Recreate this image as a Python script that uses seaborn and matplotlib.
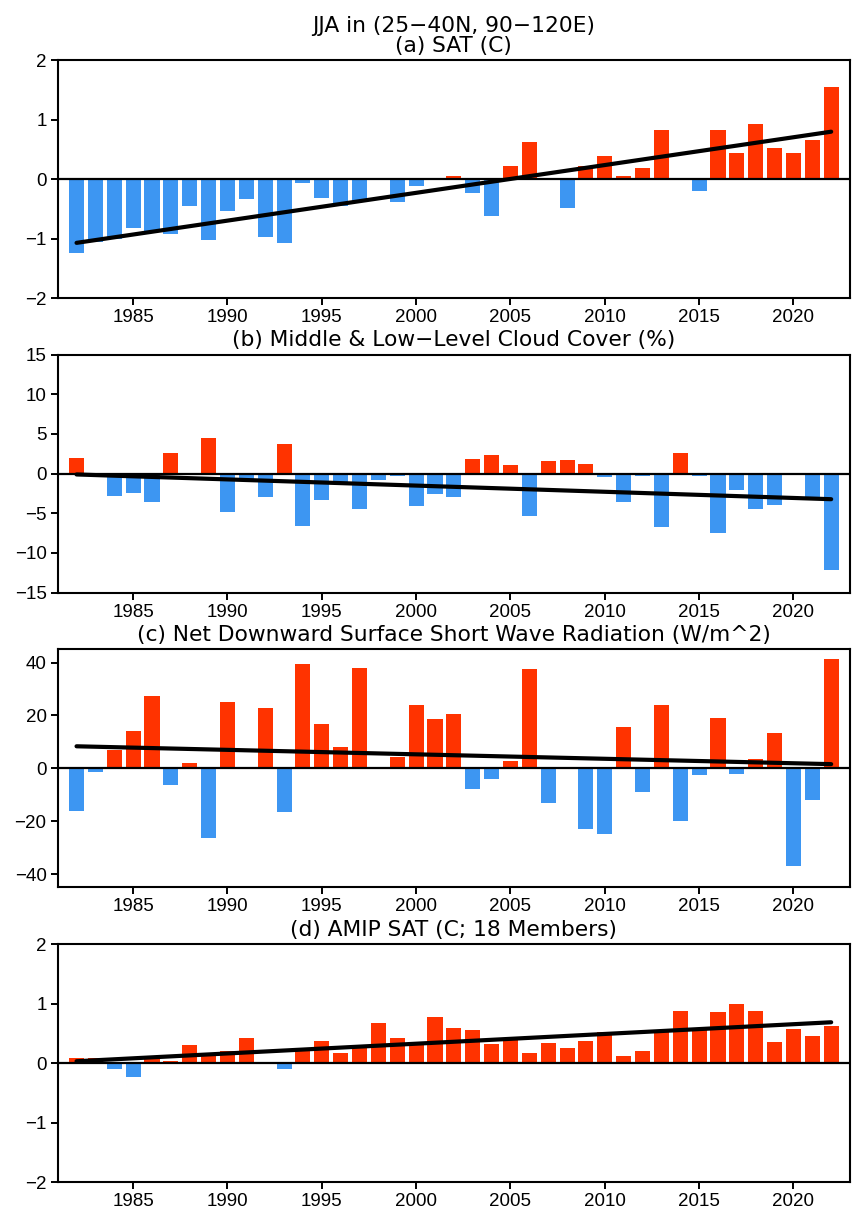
import numpy as np
import pandas as pd
import seaborn as sns
from matplotlib import pyplot as plt

# JJA anomalies over (25-40N, 90-120E), 1982-2022
years = list(range(1982, 2023))

sat = [-1.24, -1.06, -1.01, -0.82, -0.88, -0.92, -0.46, -1.02, -0.53, -0.34,
       -0.98, -1.07, -0.07, -0.32, -0.46, -0.38, 0.0, -0.39, -0.11, 0.0,
       0.05, -0.24, -0.62, 0.22, 0.63, 0.0, -0.48, 0.22, 0.39, 0.05,
       0.18, 0.83, 0.02, -0.20, 0.82, 0.43, 0.92, 0.52, 0.43, 0.65, 1.55]

cloud = [1.93, 0.0, -2.77, -2.44, -3.57, 2.56, 0.0, 4.45, -4.79, -0.7,
         -2.98, 3.74, -6.64, -3.32, -1.3, -4.45, -0.8, -0.25, -4.03, -2.52,
         -2.9, 1.89, 2.31, 1.05, -5.34, 1.55, 1.76, 1.26, -0.46, -3.57,
         -0.25, -6.72, 2.6, -0.34, -7.44, -2.02, -4.41, -3.99, 0.0, -3.0, -12.18]

swr = [-16.0, -1.4, 6.9, 14.1, 27.5, -6.4, 2.0, -26.4, 25.0, 0.0,
       22.8, -16.6, 39.5, 16.7, 7.9, 37.9, 0.0, 4.3, 24.0, 18.6,
       20.6, -7.8, -3.9, 2.9, 37.5, -13.3, 0.0, -22.8, -24.9, 15.8,
       -8.9, 24.0, -20.1, -2.4, 19.0, -2.3, 3.4, 13.2, -37.0, -12.1, 41.4]

amip = [0.09, 0.09, -0.095, -0.23, 0.07, 0.04, 0.30, 0.17, 0.20, 0.43,
        0.03, -0.095, 0.25, 0.37, 0.17, 0.28, 0.68, 0.42, 0.30, 0.77,
        0.59, 0.56, 0.32, 0.39, 0.17, 0.34, 0.26, 0.37, 0.53, 0.12,
        0.21, 0.52, 0.88, 0.58, 0.87, 0.99, 0.88, 0.36, 0.58, 0.46, 0.62]

titles = ["JJA in (25−40N, 90−120E)\n(a) SAT (C)",
          "(b) Middle & Low−Level Cloud Cover (%)",
          "(c) Net Downward Surface Short Wave Radiation (W/m^2)",
          "(d) AMIP SAT (C; 18 Members)"]
ylims = [(-2, 2), (-15, 15), (-45, 45), (-2, 2)]
yticks = [[-2, -1, 0, 1, 2], [-15, -10, -5, 0, 5, 10, 15],
          [-40, -20, 0, 20, 40], [-2, -1, 0, 1, 2]]
xticks = [1985, 1990, 1995, 2000, 2005, 2010, 2015, 2020]

RED = "#ff3300"
BLUE = "#3d96f2"

sns.set_style("ticks")
plt.rcParams["font.family"] = ["Liberation Sans", "DejaVu Sans"]
plt.rcParams["text.color"] = "black"
plt.rcParams["xtick.color"] = "black"
plt.rcParams["ytick.color"] = "black"

fig = plt.figure(figsize=(8.52, 12.10), dpi=100)
bottoms = [0.7537, 0.5102, 0.2667, 0.0229]

for series, title, ylim, yt, bottom in zip([sat, cloud, swr, amip], titles, ylims, yticks, bottoms):
    ax = fig.add_axes([0.0677, bottom, 0.930, 0.1967])
    data = pd.DataFrame({"year": years, "value": series})
    data["sign"] = np.where(data["value"] >= 0, "pos", "neg")

    sns.barplot(data, x="year", y="value", hue="sign", palette={"pos": RED, "neg": BLUE},
                native_scale=True, dodge=False, width=0.8, errorbar=None, legend=False,
                saturation=1, linewidth=0, ax=ax)
    ax.axhline(0, color="black", linewidth=1.6, zorder=3)
    sns.regplot(x=data["year"], y=data["value"], scatter=False, ci=None, color="black",
                line_kws={"linewidth": 3, "zorder": 4}, ax=ax)

    ax.set_xlim(1981, 2023)
    ax.set_ylim(*ylim)
    ax.set_yticks(yt)
    ax.set_yticklabels([str(t).replace("-", "−") for t in yt])
    ax.set_xticks(xticks)
    ax.set_xlabel("")
    ax.set_ylabel("")
    ax.set_title(title, fontsize=15.7, pad=6, linespacing=0.95, color="black",
                 family=["DejaVu Sans"])
    ax.tick_params(axis="both", labelsize=13.5, length=5, width=1.4, color="black",
                   labelcolor="black", pad=3)
    for sp in ax.spines.values():
        sp.set_linewidth(1.5)
        sp.set_color("black")

plt.savefig("out.png", dpi=100)
